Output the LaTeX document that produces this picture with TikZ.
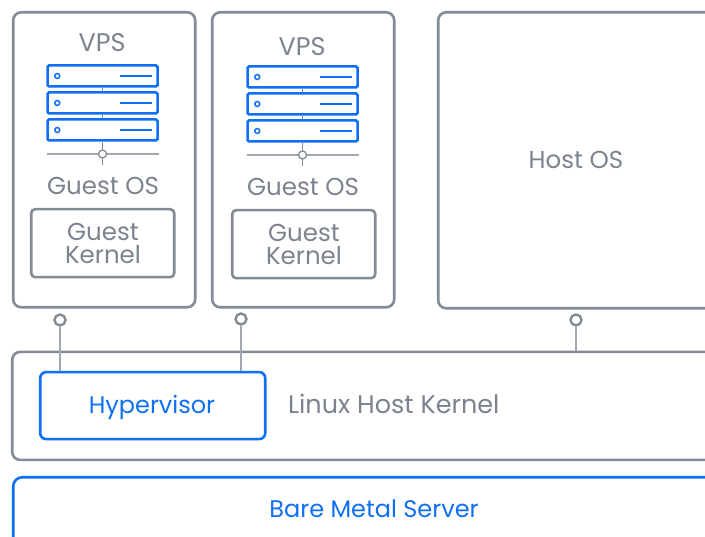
\documentclass[tikz,border=0pt]{standalone}
\usepackage{fontspec}
\setmainfont{Poppins}
\definecolor{gry}{HTML}{858B96}
\definecolor{gryl}{HTML}{A3A8B0}
\definecolor{txtg}{HTML}{7C838F}
\definecolor{blu}{HTML}{1070F5}
\tikzset{
  x=1pt,y=-1pt,
  graybox/.style={draw=gry,line width=2.6pt,rounded corners=8pt,fill=white,inner sep=0pt,anchor=north west},
  bluebox/.style={draw=blu,line width=2.6pt,rounded corners=6pt,fill=white,inner sep=0pt,anchor=north west},
  lab/.style={text=txtg,font=\fontsize{24.5}{22}\selectfont,inner sep=0pt,align=center},
  bluelab/.style={text=blu,font=\fontsize{24}{22}\selectfont,inner sep=0pt,align=center},
  rack/.style={draw=blu,line width=2.5pt,rounded corners=1.5pt,fill=white,minimum width=110pt,minimum height=21pt,inner sep=0pt},
  led/.style={circle,draw=blu,line width=1.5pt,fill=white,minimum size=5pt,inner sep=0pt},
  bar/.style={draw=blu,line width=2.2pt},
  link/.style={draw=gryl,line width=1.6pt},
  stem/.style={draw=gry,line width=1.6pt},
  pin/.style={circle,draw=gry,line width=2.4pt,fill=white,minimum size=11pt,inner sep=0pt},
  joint/.style={circle,draw=gry,line width=1.3pt,fill=white,minimum size=8pt,inner sep=0pt},
  pics/vpsstack/.style={code={
    \node[rack] (-a) at (0,-27) {};
    \node[rack] (-b) at (0,0) {};
    \node[rack] (-c) at (0,27) {};
    \draw[stem,line width=1.4pt] (-a.south) -- (-b.north);
    \draw[stem,line width=1.4pt] (-b.south) -- (-c.north);
    \foreach \r in {a,b,c}{
      \node[led] (-l\r) at ([xshift=11pt]-\r.west) {};
      \coordinate (-s\r) at ([xshift=-39pt]-\r.east);
      \coordinate (-e\r) at ([xshift=-7pt]-\r.east);
      \draw[bar] (-s\r) -- (-e\r);
    }
    \coordinate (-ll) at (-56,51);
    \coordinate (-lr) at (56,51);
    \coordinate (-st) at (0,62);
    \draw[link] (-ll) -- (-lr);
    \draw[stem] (-c.south) -- (-st);
    \node[joint] (-j) at (0,51) {};
  }},
}
\begin{document}
\begin{tikzpicture}
\useasboundingbox (0,0) rectangle (705,537);
\clip (0,0) rectangle (705,537);
% outer boxes
\node[graybox,minimum width=182pt,minimum height=295pt] (vpsa) at (11.9,11) {};
\node[graybox,minimum width=182pt,minimum height=295pt] (vpsb) at (210.9,11) {};
\node[graybox,minimum width=320pt,minimum height=296pt] (host) at (436.9,11) {};
\node[graybox,minimum width=750pt,minimum height=108pt] (kern) at (10.9,350.6) {};
\node[bluebox,minimum width=225pt,minimum height=67pt] (hyp) at (38.9,370.8) {};
\node[bluebox,rounded corners=9pt,minimum width=750pt,minimum height=90pt] (bare) at (11.9,476) {};
% guest kernels
\node[graybox,rounded corners=4pt,minimum width=143pt,minimum height=68pt] (gka) at (29.9,207.9) {};
\node[graybox,rounded corners=4pt,minimum width=143pt,minimum height=68pt] (gkb) at (230.9,208.9) {};
% labels
\node[lab,font=\fontsize{25.5}{22}\selectfont] (tvpsa) at (102,42.5) {VPS};
\node[lab,font=\fontsize{25.5}{22}\selectfont] (tvpsb) at (302,46.5) {VPS};
\node[lab] (tgoa) at (103,186) {Guest OS};
\node[lab] (tgob) at (303,187) {Guest OS};
\node[lab] (tgka) at (103,232) {Guest};
\node[lab] (tgkaa) at (103,255) {Kernel};
\node[lab] (tgkb) at (304,233) {Guest};
\node[lab] (tgkbb) at (304,256) {Kernel};
\node[lab] (thost) at (576,159.5) {Host OS};
\node[lab,anchor=west,font=\fontsize{25.5}{22}\selectfont] (tkern) at (288,404) {Linux Host Kernel};
\node[bluelab] (thyp) at (152,407) {Hypervisor};
\node[bluelab] (tbare) at (374,509) {Bare Metal Server};
% server stacks
\pic (sa) at (102.5,103) {vpsstack};
\pic (sb) at (302.5,104) {vpsstack};
% pins and connectors
\node[pin] (pa) at (60,320) {};
\node[pin] (pb) at (241,319) {};
\node[pin] (pc) at (576,320) {};
\draw[link] (pa.south) -- (pa.south |- hyp.north);
\draw[link] (pb.south) -- (pb.south |- hyp.north);
\draw[link] (pc.south) -- (pc.south |- kern.north);
\end{tikzpicture}
\end{document}
